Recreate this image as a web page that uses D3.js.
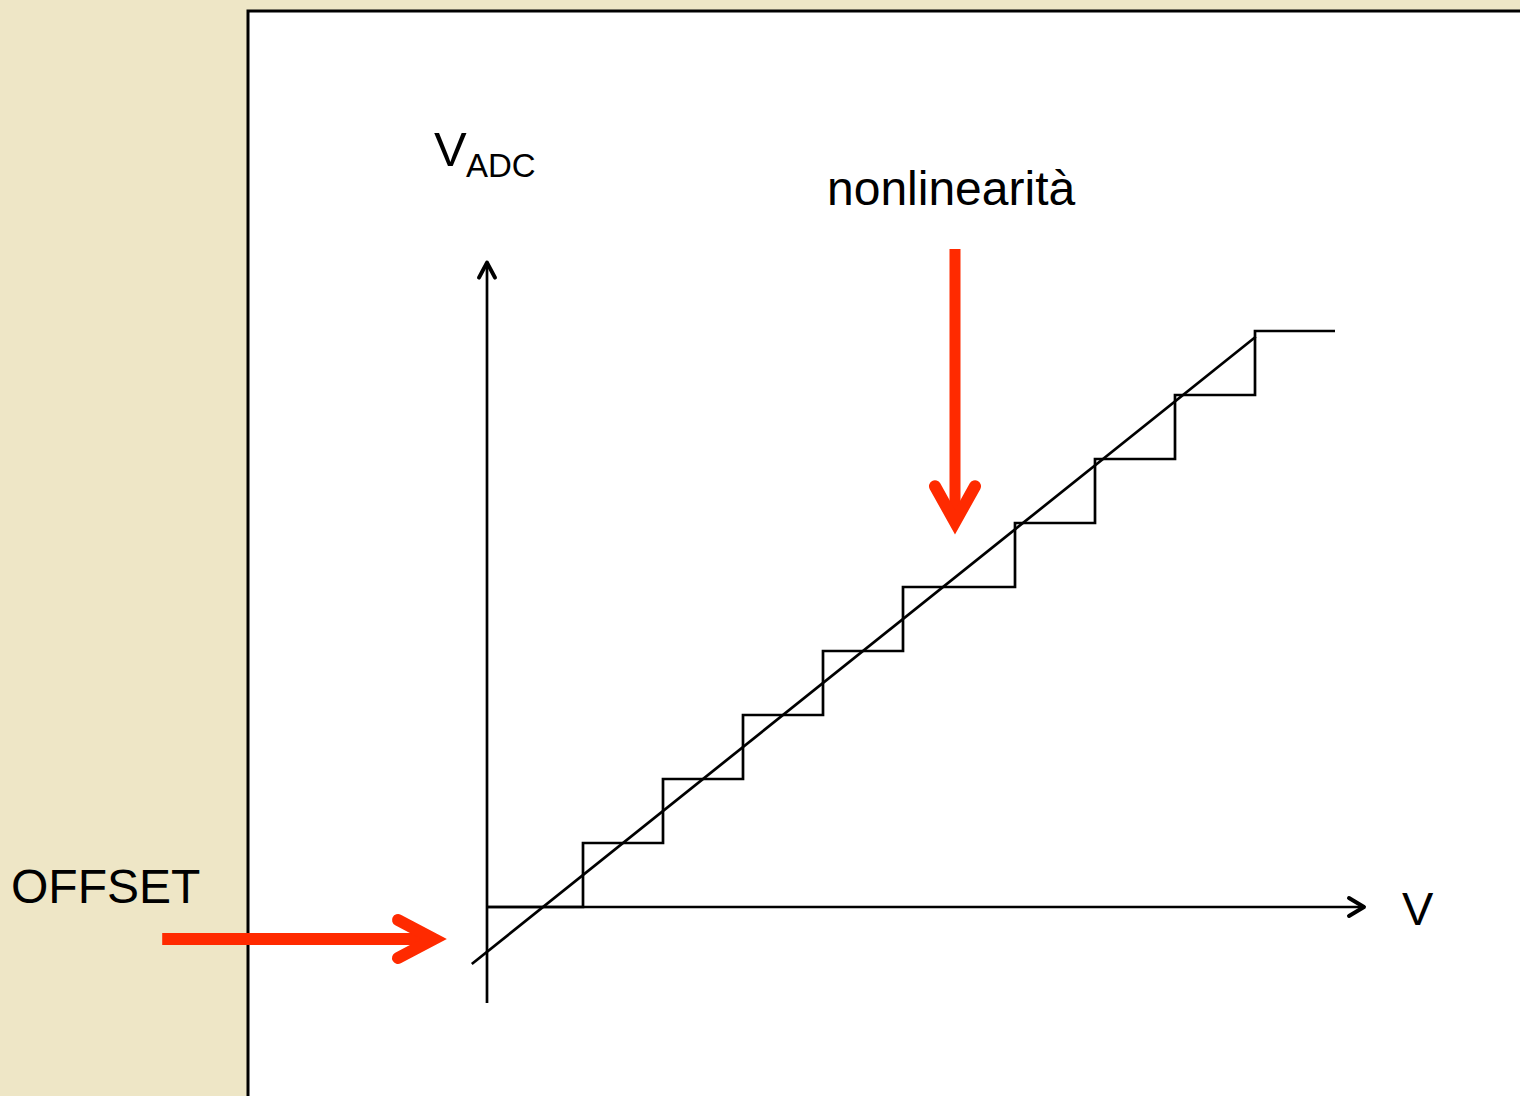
<!DOCTYPE html>
<html>
<head>
<meta charset="utf-8">
<script src="https://cdn.jsdelivr.net/npm/d3@7"></script>
<style>
  html, body { margin: 0; padding: 0; background: #eee6c6; }
  svg { display: block; }
  text { font-family: "Liberation Sans", Arial, sans-serif; fill: #000; }
</style>
</head>
<body>
<svg id="chart" width="1520" height="1096"></svg>
<script>
// staircase: input voltage where each code starts, and the code itself
const stairX = [0, 1.2, 2.2, 3.2, 4.2, 5.2, 6.6, 7.6, 8.6, 9.6, 10.6];
const stairCode = [0, 1, 2, 3, 4, 5, 6, 7, 8, 9, 9];
// ideal (offset) transfer line end points
const lineX = [-0.19, 9.61];
const lineY = [-0.89, 8.91];
// axis extents
const xAxisExtent = [0, 11];
const yAxisExtent = [-1.5, 10.1];
// annotation arrows (data coords)
const nonlinArrow = { x: 5.85, y0: 10.28, y1: 5.84 };
const offsetArrow = { y: -0.5, x0: -4.06, x1: -0.5 };
const labels = { y: 'V', ySub: 'ADC', x: 'V', nonlin: 'nonlinearità', offset: 'OFFSET' };

const svg = d3.select('#chart');

// white slide panel
svg.append('rect')
  .attr('x', 248).attr('y', 11)
  .attr('width', 1290).attr('height', 1100)
  .attr('fill', '#fff')
  .attr('stroke', '#000')
  .attr('stroke-width', 3);

const x = d3.scaleLinear().domain([0, 11]).range([487, 1367]);
const y = d3.scaleLinear().domain([0, 10]).range([907, 267]);

const black = { stroke: '#000', width: 2.7 };

// axes
svg.append('line')
  .attr('x1', x(xAxisExtent[0])).attr('y1', y(0))
  .attr('x2', x(xAxisExtent[1]) - 3).attr('y2', y(0))
  .attr('stroke', black.stroke).attr('stroke-width', black.width);
svg.append('line')
  .attr('x1', x(0)).attr('y1', y(yAxisExtent[0]))
  .attr('x2', x(0)).attr('y2', y(yAxisExtent[1]) + 2)
  .attr('stroke', black.stroke).attr('stroke-width', black.width);

const chevron = (tipX, tipY, dx1, dy1, dx2, dy2) =>
  `M${tipX + dx1},${tipY + dy1}L${tipX},${tipY}L${tipX + dx2},${tipY + dy2}`;

// axis arrow heads
svg.append('path')
  .attr('d', chevron(x(xAxisExtent[1]) - 3, y(0), -15, -9, -15, 9))
  .attr('fill', 'none').attr('stroke', '#000').attr('stroke-width', 4)
  .attr('stroke-linecap', 'round').attr('stroke-linejoin', 'round');
svg.append('path')
  .attr('d', chevron(x(0), y(yAxisExtent[1]) + 2, -8, 15, 8, 15))
  .attr('fill', 'none').attr('stroke', '#000').attr('stroke-width', 4)
  .attr('stroke-linecap', 'round').attr('stroke-linejoin', 'round');

// staircase
const stairs = stairX.map((v, i) => [v, stairCode[i]]);
svg.append('path')
  .datum(stairs)
  .attr('d', d3.line().x(d => x(d[0])).y(d => y(d[1])).curve(d3.curveStepAfter))
  .attr('fill', 'none')
  .attr('stroke', black.stroke)
  .attr('stroke-width', black.width);

// ideal line with offset
svg.append('line')
  .attr('x1', x(lineX[0])).attr('y1', y(lineY[0]))
  .attr('x2', x(lineX[1])).attr('y2', y(lineY[1]))
  .attr('stroke', black.stroke).attr('stroke-width', black.width);

// red annotation arrows
const red = '#ff2a00';
svg.append('line')
  .attr('x1', x(nonlinArrow.x)).attr('y1', y(nonlinArrow.y0))
  .attr('x2', x(nonlinArrow.x)).attr('y2', y(nonlinArrow.y1) - 14)
  .attr('stroke', red).attr('stroke-width', 11);
svg.append('path')
  .attr('d', chevron(x(nonlinArrow.x), y(nonlinArrow.y1) - 11, -20, -36, 20, -36))
  .attr('fill', 'none').attr('stroke', red).attr('stroke-width', 12)
  .attr('stroke-linecap', 'round').attr('stroke-linejoin', 'miter');

svg.append('line')
  .attr('x1', x(offsetArrow.x0)).attr('y1', y(offsetArrow.y))
  .attr('x2', x(offsetArrow.x1) - 16).attr('y2', y(offsetArrow.y))
  .attr('stroke', red).attr('stroke-width', 12);
svg.append('path')
  .attr('d', chevron(x(offsetArrow.x1) - 13, y(offsetArrow.y), -36, -19, -36, 19))
  .attr('fill', 'none').attr('stroke', red).attr('stroke-width', 12)
  .attr('stroke-linecap', 'round').attr('stroke-linejoin', 'miter');

// labels
const yl = svg.append('text')
  .attr('x', 434).attr('y', 166)
  .style('font-size', '49px');
yl.append('tspan').text(labels.y);
yl.append('tspan').attr('x', 466).attr('y', 177).style('font-size', '33px').text(labels.ySub);

svg.append('text')
  .attr('x', 1402).attr('y', 925)
  .style('font-size', '47px')
  .text(labels.x);

svg.append('text')
  .attr('x', 827).attr('y', 205)
  .style('font-size', '48px')
  .text(labels.nonlin);

svg.append('text')
  .attr('x', 11).attr('y', 903)
  .style('font-size', '48px')
  .text(labels.offset);
</script>
</body>
</html>
